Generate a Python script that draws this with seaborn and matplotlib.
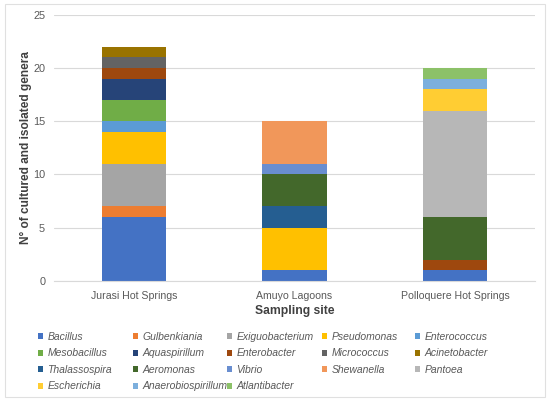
import matplotlib
matplotlib.use("Agg")
import matplotlib.pyplot as plt
from matplotlib.patches import Patch, Rectangle
import seaborn as sns
import pandas as pd

sites = ["Jurasi Hot Springs", "Amuyo Lagoons", "Polloquere Hot Springs"]
genera = ["Bacillus", "Gulbenkiania", "Exiguobacterium", "Pseudomonas", "Enterococcus",
          "Mesobacillus", "Aquaspirillum", "Enterobacter", "Micrococcus", "Acinetobacter",
          "Thalassospira", "Aeromonas", "Vibrio", "Shewanella", "Pantoea",
          "Escherichia", "Anaerobiospirillum", "Atlantibacter"]
colors = ["#4472C4", "#ED7D31", "#A5A5A5", "#FFC000", "#5B9BD5",
          "#70AD47", "#264478", "#9E480E", "#636363", "#997300",
          "#255E91", "#43682B", "#698ED0", "#F1975A", "#B7B7B7",
          "#FFCD33", "#7CAFDD", "#8CC168"]
# counts per genus for [Jurasi, Amuyo, Polloquere]
jurasi =     [6, 1, 4, 3, 1, 2, 2, 1, 1, 1, 0, 0, 0, 0, 0, 0, 0, 0]
amuyo =      [1, 0, 0, 4, 0, 0, 0, 0, 0, 0, 2, 3, 1, 4, 0, 0, 0, 0]
polloquere = [1, 0, 0, 0, 0, 0, 0, 1, 0, 0, 0, 4, 0, 0, 10, 2, 1, 1]

rows = []
for site, vals in zip(sites, [jurasi, amuyo, polloquere]):
    for g, v in zip(genera, vals):
        rows.append({"site": site, "genus": g, "count": v})
df = pd.DataFrame(rows)

sns.set_theme(style="white")
plt.rcParams["font.family"] = ["Liberation Sans", "DejaVu Sans"]

fig = plt.figure(figsize=(5.5, 4.04), dpi=100)
ax = fig.add_axes([0.0973, 0.3045, 0.8763, 0.6591])

palette = dict(zip(genera, colors))
sns.histplot(data=df, x="site", weights="count", hue="genus",
             hue_order=genera[::-1], palette=palette, multiple="stack",
             discrete=True, shrink=0.4, linewidth=0, alpha=1,
             legend=False, ax=ax)

ax.set_xlim(-0.5, 2.5)
ax.set_ylim(0, 25)
ax.set_yticks([0, 5, 10, 15, 20, 25])
ax.yaxis.grid(True, color="#D9D9D9", linewidth=0.8)
ax.set_axisbelow(True)
for s in ["top", "right", "left"]:
    ax.spines[s].set_visible(False)
ax.spines["bottom"].set_color("#D9D9D9")
ax.spines["bottom"].set_linewidth(0.8)
ax.tick_params(axis="x", length=0, labelsize=7.6, labelcolor="#595959", pad=7)
ax.tick_params(axis="y", length=0, labelsize=7.8, labelcolor="#595959", pad=6)
ax.set_xlabel("Sampling site", fontsize=8.7, fontweight="bold", color="#404040", labelpad=3)
ax.set_ylabel("N° of cultured and isolated genera", fontsize=8.6, fontweight="bold",
              color="#404040", labelpad=0.5)

# legend: five equally spaced columns, filled row by row
col_x = [38, 133, 227, 322, 415]
top_y = 1 - 332 / 404
for i, x in enumerate(col_x):
    idx = list(range(i, len(genera), 5))
    hs = [Patch(facecolor=colors[j], edgecolor="none") for j in idx]
    ls = [genera[j] for j in idx]
    leg = fig.legend(hs, ls, ncol=1, loc="upper left",
                     bbox_to_anchor=(x / 550, top_y), bbox_transform=fig.transFigure,
                     frameon=False, handlelength=0.5, handleheight=0.5, handletextpad=0.4,
                     labelspacing=0.62, borderpad=0, borderaxespad=0,
                     prop={"size": 7.45, "style": "italic"})
    for t in leg.get_texts():
        t.set_color("#595959")

fig.patches.append(Rectangle((5 / 550, 7 / 404), 540 / 550, 393 / 404, transform=fig.transFigure,
                             fill=False, edgecolor="#E0E0E0", linewidth=0.8))

fig.savefig("out.png", dpi=100)
